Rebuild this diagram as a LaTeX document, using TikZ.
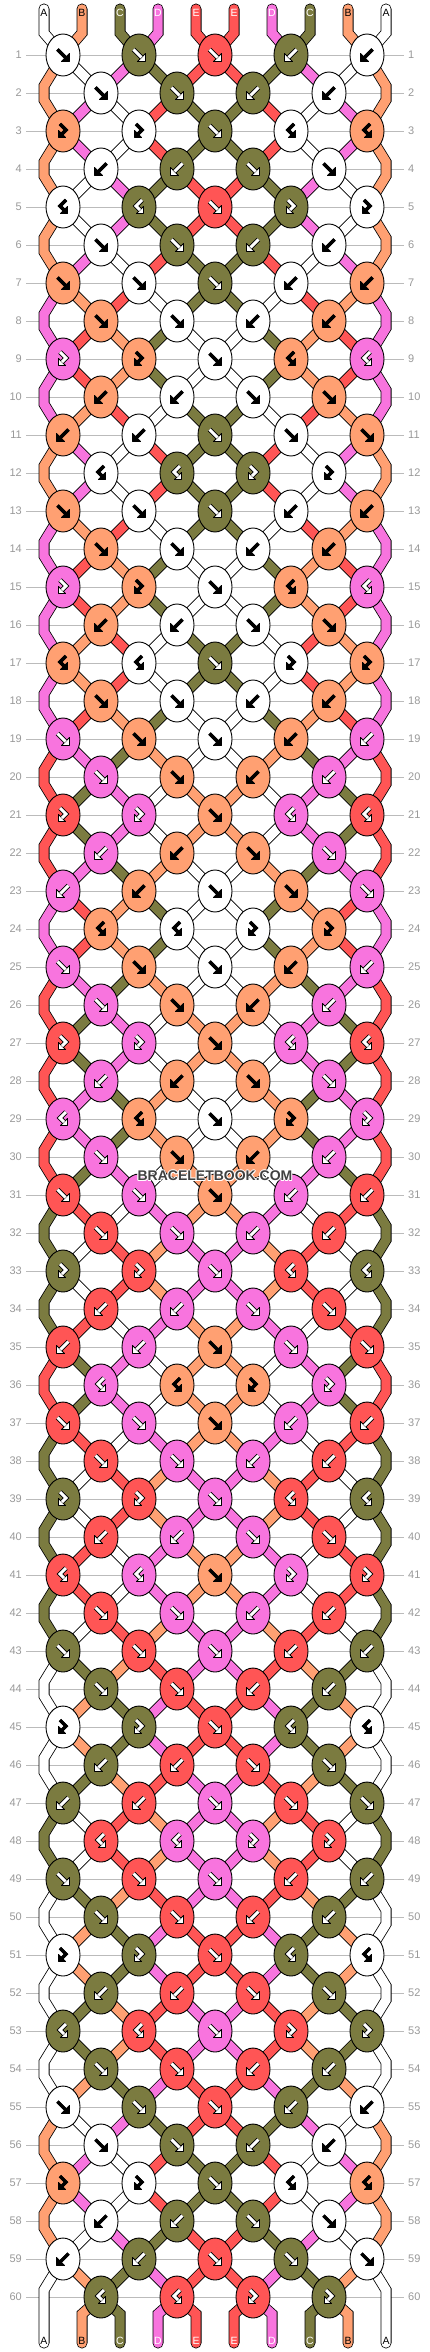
\documentclass[tikz,border=0pt]{standalone}
\usepackage{fontspec}
\setmainfont{Liberation Sans}
\usetikzlibrary{shapes.geometric}
\definecolor{colA}{HTML}{FFFFFF}
\definecolor{colB}{HTML}{FFA072}
\definecolor{colC}{HTML}{7B7B40}
\definecolor{colD}{HTML}{F874DE}
\definecolor{colE}{HTML}{FF5555}
\definecolor{rowgray}{HTML}{BBBBBB}
\definecolor{numgray}{HTML}{999999}
\definecolor{wmark}{HTML}{404040}
\def\gcA{black}\def\gcB{black}\def\gcC{white}\def\gcD{white}\def\gcE{white}
\def\goA{3.2}\def\goB{3.2}\def\goC{4.8}\def\goD{4.8}\def\goE{4.8}
\def\giA{3.2}\def\giB{3.2}\def\giC{3.0}\def\giD{3.0}\def\giE{3.0}
\def\lcA{black}\def\lcB{black}\def\lcC{white}\def\lcD{white}\def\lcE{white}
\def\mirf{b}\def\mirb{f}\def\mirfb{bf}\def\mirbf{fb}
\def\shaftf{(-5.5,-5.5) -- (2.5,2.5)}
\def\headf{(6.5,6.5) -- (6.5,-1.5) -- (-1.5,6.5)}
\def\shaftb{(5.5,-5.5) -- (-2.5,2.5)}
\def\headb{(-6.5,6.5) -- (-6.5,-1.5) -- (1.5,6.5)}
\def\shaftfb{(-3,-7) -- (3,-1) -- (-1,3)}
\def\headfb{(-4.5,6.5) -- (-4.5,-0.5) -- (2.5,6.5)}
\def\shaftbf{(3,-7) -- (-3,-1) -- (1,3)}
\def\headbf{(4.5,6.5) -- (4.5,-0.5) -- (-2.5,6.5)}
\pgfdeclarelayer{bg}
\pgfsetlayers{bg,main}
\tikzset{
  knotnode/.style={ellipse, draw=black, line width=0.9pt, minimum width=34pt, minimum height=42pt, inner sep=0pt},
  bandout/.style={draw=black, line width=11pt},
  bandin/.style={draw=col#1, line width=9.4pt},
  rowline/.style={draw=rowgray, line width=0.9pt},
  rowlbl/.style={text=numgray, font=\fontsize{11}{13}\selectfont, inner sep=0pt},
  strlbl/.style={font=\fontsize{10.5}{12}\selectfont, inner sep=0pt},
  wm/.style={text=wmark, font=\bfseries\fontsize{14}{17}\selectfont, inner sep=0pt}
}
\newcommand\knotat[5]{%
  \node[knotnode, fill=col#5] (#1) at (#2,#3) {};
  \begin{scope}[shift={(#2,#3)}]
    \expandafter\let\expandafter\curshaft\csname shaft#4\endcsname
    \expandafter\let\expandafter\curhead\csname head#4\endcsname
    \edef\gc{\csname gc#5\endcsname}%
    \edef\go{\csname go#5\endcsname}%
    \edef\gi{\csname gi#5\endcsname}%
    \draw[line width=\go pt, black] \curshaft;
    \filldraw[fill=\gc, draw=black, line width=0.9pt, line join=round] \curhead -- cycle;
    \draw[line width=\gi pt, \gc] \curshaft;
  \end{scope}}
\newcommand\band[3]{\draw[bandout] (#2.center) -- (#3.center); \draw[bandin=#1] (#2.center) -- (#3.center);}
\newcommand\zig[5]{\draw[bandout] (#2.center) -- (#3) -- (#4) -- (#5.center); \draw[bandin=#1] (#2.center) -- (#3) -- (#4) -- (#5.center);}
\newcommand\stub[4]{\draw[bandout, line cap=round] (#2) -- (#3) -- (#4.center); \draw[bandin=#1, line cap=round] (#2) -- (#3) -- (#4.center);}
\newcommand\stubE[4]{\draw[bandout, line cap=round] (#2.center) -- (#3) -- (#4); \draw[bandin=#1, line cap=round] (#2.center) -- (#3) -- (#4);}
\def\hl#1#2#3{\rlap{\hspace*{#1}\raisebox{#2}{\color{white}#3}}}
\newcommand\halotext[1]{\hl{1pt}{0pt}{#1}\hl{-1pt}{0pt}{#1}\hl{0pt}{1pt}{#1}\hl{0pt}{-1pt}{#1}\hl{.7pt}{.7pt}{#1}\hl{-.7pt}{.7pt}{#1}\hl{.7pt}{-.7pt}{#1}\hl{-.7pt}{-.7pt}{#1}#1}
\def\knotlist{1/f/A/f/C/f/E,2/f/A/f/C/n/n,3/fb/B/fb/A/f/C,4/b/A/b/C/n/n,5/bf/A/bf/C/f/E,%
6/f/A/f/C/n/n,7/f/B/f/A/f/C,8/f/B/f/A/n/n,9/fb/D/fb/B/f/A,10/b/B/b/A/n/n,%
11/b/B/b/A/f/C,12/bf/A/bf/C/n/n,13/f/B/f/A/f/C,14/f/B/f/A/n/n,15/fb/D/fb/B/f/A,%
16/b/B/b/A/n/n,17/bf/B/bf/A/f/C,18/f/B/f/A/n/n,19/f/D/f/B/f/A,20/f/D/f/B/n/n,%
21/fb/E/fb/D/f/B,22/b/D/b/B/n/n,23/b/D/b/B/f/A,24/bf/B/bf/A/n/n,25/f/D/f/B/f/A,%
26/f/D/f/B/n/n,27/fb/E/fb/D/f/B,28/b/D/b/B/n/n,29/bf/D/bf/B/f/A,30/f/D/f/B/n/n,%
31/f/E/f/D/f/B,32/f/E/f/D/n/n,33/fb/C/fb/E/f/D,34/b/E/b/D/n/n,35/b/E/b/D/f/B,%
36/bf/D/bf/B/n/n,37/f/E/f/D/f/B,38/f/E/f/D/n/n,39/fb/C/fb/E/f/D,40/b/E/b/D/n/n,%
41/bf/E/bf/D/f/B,42/f/E/f/D/n/n,43/f/C/f/E/f/D,44/f/C/f/E/n/n,45/fb/A/fb/C/f/E,%
46/b/C/b/E/n/n,47/b/C/b/E/f/D,48/bf/E/bf/D/n/n,49/f/C/f/E/f/D,50/f/C/f/E/n/n,%
51/fb/A/fb/C/f/E,52/b/C/b/E/n/n,53/bf/C/bf/E/f/D,54/f/C/f/E/n/n,55/f/A/f/C/f/E,%
56/f/A/f/C/n/n,57/fb/B/fb/A/f/C,58/b/A/b/C/n/n,59/b/A/b/C/f/E,60/bf/C/bf/E/n/n}
\def\statelist{0/A/B/C/D/E,1/B/A/D/C/E,2/B/D/A/E/C,3/B/D/A/E/C,4/B/A/D/C/E,5/B/A/D/C/E,%
6/B/D/A/E/C,7/D/B/E/A/C,8/D/E/B/C/A,9/D/E/B/C/A,10/D/B/E/A/C,11/B/D/A/E/C,12/B/D/A/E/C,%
13/D/B/E/A/C,14/D/E/B/C/A,15/D/E/B/C/A,16/D/B/E/A/C,17/D/B/E/A/C,18/D/E/B/C/A,%
19/E/D/C/B/A,20/E/C/D/A/B,21/E/C/D/A/B,22/E/D/C/B/A,23/D/E/B/C/A,24/D/E/B/C/A,%
25/E/D/C/B/A,26/E/C/D/A/B,27/E/C/D/A/B,28/E/D/C/B/A,29/E/D/C/B/A,30/E/C/D/A/B,%
31/C/E/A/D/B,32/C/A/E/B/D,33/C/A/E/B/D,34/C/E/A/D/B,35/E/C/D/A/B,36/E/C/D/A/B,%
37/C/E/A/D/B,38/C/A/E/B/D,39/C/A/E/B/D,40/C/E/A/D/B,41/C/E/A/D/B,42/C/A/E/B/D,%
43/A/C/B/E/D,44/A/B/C/D/E,45/A/B/C/D/E,46/A/C/B/E/D,47/C/A/E/B/D,48/C/A/E/B/D,%
49/A/C/B/E/D,50/A/B/C/D/E,51/A/B/C/D/E,52/A/C/B/E/D,53/A/C/B/E/D,54/A/B/C/D/E,%
55/B/A/D/C/E,56/B/D/A/E/C,57/B/D/A/E/C,58/B/A/D/C/E,59/A/B/C/D/E,60/A/B/C/D/E}
\begin{document}
\begin{tikzpicture}[x=1pt,y=-1pt]
\useasboundingbox (0,0) rectangle (430,2352);
\begin{pgfonlayer}{bg}
  \fill[white] (0,0) rectangle (430,2352);
\end{pgfonlayer}
% string end coordinates
\foreach \i in {1,...,10} {
  \pgfmathsetmacro\xx{44+38*(\i-1)}
  \coordinate (tA-\i) at (\xx,9);
  \coordinate (tB-\i) at (\xx,33);
  \coordinate (bA-\i) at (\xx,2343);
  \coordinate (bB-\i) at (\xx,2314);
}
% row labels and lines
\foreach \r in {1,...,60} {
  \pgfmathtruncatemacro\yy{55+38*(\r-1)}
  \node[rowlbl, anchor=east] (rl-\r) at (22,\yy) {\r};
  \node[rowlbl, anchor=west] (rr-\r) at (408,\yy) {\r};
  \begin{pgfonlayer}{bg}
    \draw[rowline] ([xshift=4pt]rl-\r.east) -- ([xshift=-4pt]rr-\r.west);
  \end{pgfonlayer}
}
% knots
\foreach \r/\ta/\ca/\tb/\cb/\tc/\cc in \knotlist {
  \pgfmathtruncatemacro\yy{55+38*(\r-1)}
  \pgfmathtruncatemacro\ya{\yy-7}
  \pgfmathtruncatemacro\yb{\yy+7}
  \ifodd\r\relax
    \edef\tmp{%
      \noexpand\knotat{k-\r-1}{63}{\yy}{\ta}{\ca}%
      \noexpand\knotat{k-\r-2}{139}{\yy}{\tb}{\cb}%
      \noexpand\knotat{k-\r-3}{215}{\yy}{\tc}{\cc}%
      \noexpand\knotat{k-\r-4}{291}{\yy}{\csname mir\tb\endcsname}{\cb}%
      \noexpand\knotat{k-\r-5}{367}{\yy}{\csname mir\ta\endcsname}{\ca}}%
  \else
    \edef\tmp{%
      \noexpand\knotat{k-\r-1}{101}{\yy}{\ta}{\ca}%
      \noexpand\knotat{k-\r-2}{177}{\yy}{\tb}{\cb}%
      \noexpand\knotat{k-\r-3}{253}{\yy}{\csname mir\tb\endcsname}{\cb}%
      \noexpand\knotat{k-\r-4}{329}{\yy}{\csname mir\ta\endcsname}{\ca}%
      \noexpand\coordinate (eLa-\r) at (44,\ya);%
      \noexpand\coordinate (eLb-\r) at (44,\yb);%
      \noexpand\coordinate (eRa-\r) at (386,\ya);%
      \noexpand\coordinate (eRb-\r) at (386,\yb);}%
  \fi
  \tmp
}
% strings
\begin{pgfonlayer}{bg}
\foreach \r/\a/\b/\c/\d/\e in \statelist {
  \pgfmathtruncatemacro\rn{\r+1}
  \pgfmathtruncatemacro\rp{\r-1}
  \ifnum\r=0
    \edef\tmp{%
      \noexpand\stub{\a}{tA-1}{tB-1}{k-1-1}%
      \noexpand\stub{\b}{tA-2}{tB-2}{k-1-1}%
      \noexpand\stub{\c}{tA-3}{tB-3}{k-1-2}%
      \noexpand\stub{\d}{tA-4}{tB-4}{k-1-2}%
      \noexpand\stub{\e}{tA-5}{tB-5}{k-1-3}%
      \noexpand\stub{\e}{tA-6}{tB-6}{k-1-3}%
      \noexpand\stub{\d}{tA-7}{tB-7}{k-1-4}%
      \noexpand\stub{\c}{tA-8}{tB-8}{k-1-4}%
      \noexpand\stub{\b}{tA-9}{tB-9}{k-1-5}%
      \noexpand\stub{\a}{tA-10}{tB-10}{k-1-5}}%
  \else\ifnum\r=60
    \edef\tmp{%
      \noexpand\stubE{\a}{k-59-1}{eLa-60}{bA-1}%
      \noexpand\stub{\b}{bA-2}{bB-2}{k-60-1}%
      \noexpand\stub{\c}{bA-3}{bB-3}{k-60-1}%
      \noexpand\stub{\d}{bA-4}{bB-4}{k-60-2}%
      \noexpand\stub{\e}{bA-5}{bB-5}{k-60-2}%
      \noexpand\stub{\e}{bA-6}{bB-6}{k-60-3}%
      \noexpand\stub{\d}{bA-7}{bB-7}{k-60-3}%
      \noexpand\stub{\c}{bA-8}{bB-8}{k-60-4}%
      \noexpand\stub{\b}{bA-9}{bB-9}{k-60-4}%
      \noexpand\stubE{\a}{k-59-5}{eRa-60}{bA-10}}%
  \else
    \ifodd\r\relax
      \edef\tmp{%
        \noexpand\band{\b}{k-\r-1}{k-\rn-1}%
        \noexpand\band{\c}{k-\r-2}{k-\rn-1}%
        \noexpand\band{\d}{k-\r-2}{k-\rn-2}%
        \noexpand\band{\e}{k-\r-3}{k-\rn-2}%
        \noexpand\band{\e}{k-\r-3}{k-\rn-3}%
        \noexpand\band{\d}{k-\r-4}{k-\rn-3}%
        \noexpand\band{\c}{k-\r-4}{k-\rn-4}%
        \noexpand\band{\b}{k-\r-5}{k-\rn-4}}%
    \else
      \edef\tmp{%
        \noexpand\band{\b}{k-\r-1}{k-\rn-1}%
        \noexpand\band{\c}{k-\r-1}{k-\rn-2}%
        \noexpand\band{\d}{k-\r-2}{k-\rn-2}%
        \noexpand\band{\e}{k-\r-2}{k-\rn-3}%
        \noexpand\band{\e}{k-\r-3}{k-\rn-3}%
        \noexpand\band{\d}{k-\r-3}{k-\rn-4}%
        \noexpand\band{\c}{k-\r-4}{k-\rn-4}%
        \noexpand\band{\b}{k-\r-4}{k-\rn-5}%
        \noexpand\zig{\a}{k-\rp-1}{eLa-\r}{eLb-\r}{k-\rn-1}%
        \noexpand\zig{\a}{k-\rp-5}{eRa-\r}{eRb-\r}{k-\rn-5}}%
    \fi
  \fi\fi
  \tmp
}
\end{pgfonlayer}
% string letters
\foreach \i/\L in {1/A,2/B,3/C,4/D,5/E,6/E,7/D,8/C,9/B,10/A} {
  \pgfmathsetmacro\xx{44+38*(\i-1)}
  \edef\tmp{%
    \noexpand\node[strlbl, text=\csname lc\L\endcsname] (lt-\i) at (\xx,13) {\L};%
    \noexpand\node[strlbl, text=\csname lc\L\endcsname] (lb-\i) at (\xx,2341) {\L};}%
  \tmp
}
\node[wm] (wm) at (215,1176) {\halotext{BRACELETBOOK.COM}};
\end{tikzpicture}
\end{document}
